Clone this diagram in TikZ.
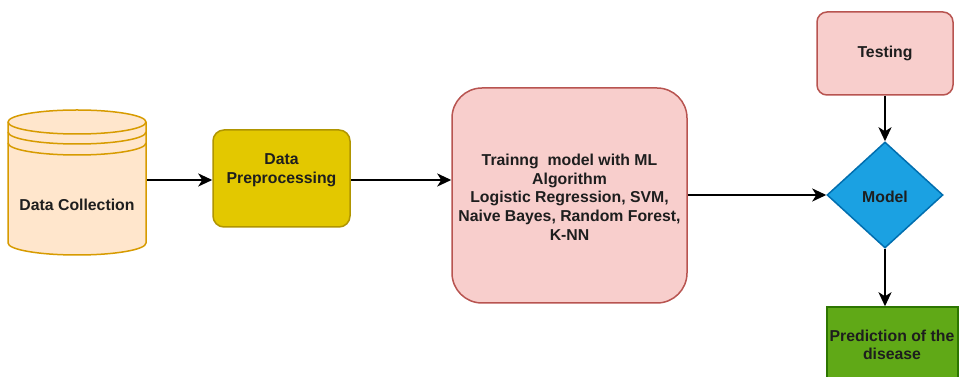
\documentclass[tikz,border=0pt]{standalone}
\usepackage{fontspec}
\setmainfont{Liberation Sans}
\usetikzlibrary{shapes.geometric,arrows.meta}

\definecolor{cylfill}{HTML}{FFE6CC}
\definecolor{cylline}{HTML}{D79B00}
\definecolor{prefill}{HTML}{E3C800}
\definecolor{preline}{HTML}{B09500}
\definecolor{redfill}{HTML}{F8CECC}
\definecolor{redline}{HTML}{B85450}
\definecolor{bluefill}{HTML}{1BA1E2}
\definecolor{blueline}{HTML}{006EAF}
\definecolor{greenfill}{HTML}{60A917}
\definecolor{greenline}{HTML}{2D7600}
\definecolor{ink}{HTML}{1E1E1E}

\tikzset{
  lbl/.style={font=\fontsize{15.8}{18.7}\selectfont\bfseries, text=ink, align=center, inner sep=0pt},
  box/.style={rectangle, line width=1.5pt, inner sep=0pt},
  arr/.style={line width=2.2pt, draw=black, -{Stealth[length=14pt,width=13pt,inset=4pt]}},
}

\begin{document}
\begin{tikzpicture}[x=1pt,y=1pt]
\clip (0,0) rectangle (959,377);
\fill[white] (0,0) rectangle (959,377);

% data store cylinder
\path[fill=cylfill, draw=cylline, line width=1.5pt]
  (8,255) -- (8,134) arc[start angle=180, end angle=360, x radius=69pt, y radius=12pt]
  -- (146,255) arc[start angle=0, end angle=180, x radius=69pt, y radius=12pt] -- cycle;
\draw[cylline, line width=1.5pt] (8,255) arc[start angle=180, end angle=360, x radius=69pt, y radius=12pt];
\draw[cylline, line width=1.5pt] (8,245) arc[start angle=180, end angle=360, x radius=69pt, y radius=12pt];
\draw[cylline, line width=1.5pt] (8,234) arc[start angle=180, end angle=360, x radius=69pt, y radius=12pt];
\node[box, minimum width=138pt, minimum height=145pt] (dc) at (77,194.5) {};
\node[lbl] (dcText) at (77,172) {Data Collection};

% preprocessing
\node[box, fill=prefill, draw=preline, rounded corners=11pt,
      minimum width=137pt, minimum height=97pt] (pre) at (281.5,198.5) {};
\node[lbl] (preText) at (281.5,207) {Data\\Preprocessing};

% training
\node[box, fill=redfill, draw=redline, rounded corners=30pt,
      minimum width=235pt, minimum height=215pt] (train) at (569.5,181.5) {};
\node[lbl] (trainText) at (569.5,180) {Trainng\ \ model with ML\\Algorithm\\Logistic Regression, SVM,\\Naive Bayes, Random Forest,\\K-NN};

% model decision
\node[diamond, fill=bluefill, draw=blueline, line width=1.5pt, inner sep=0pt,
      minimum width=116pt, minimum height=106pt] (model) at (885,182) {};
\node[lbl] (modelText) at (885,180) {Model};

% testing
\node[box, fill=redfill, draw=redline, rounded corners=10pt,
      minimum width=136pt, minimum height=83pt] (test) at (885,323.5) {};
\node[lbl] (testText) at (885,324) {Testing};

% prediction
\node[box, fill=greenfill, draw=greenline,
      minimum width=131pt, minimum height=78pt] (pred) at (892.5,31) {};
\node[lbl] (predText) at (892,32) {Prediction of the\\disease};

% connectors
\draw[arr] (dc.east |- 0,197) -- (pre.west |- 0,197);
\draw[arr] (pre.east |- 0,197) -- (train.west |- 0,197);
\draw[arr] (train.east |- model.west) -- (model.west);
\draw[arr] (test.south) -- (model.north);
\draw[arr] (model.south) -- (pred.north -| model.south);
\end{tikzpicture}
\end{document}
